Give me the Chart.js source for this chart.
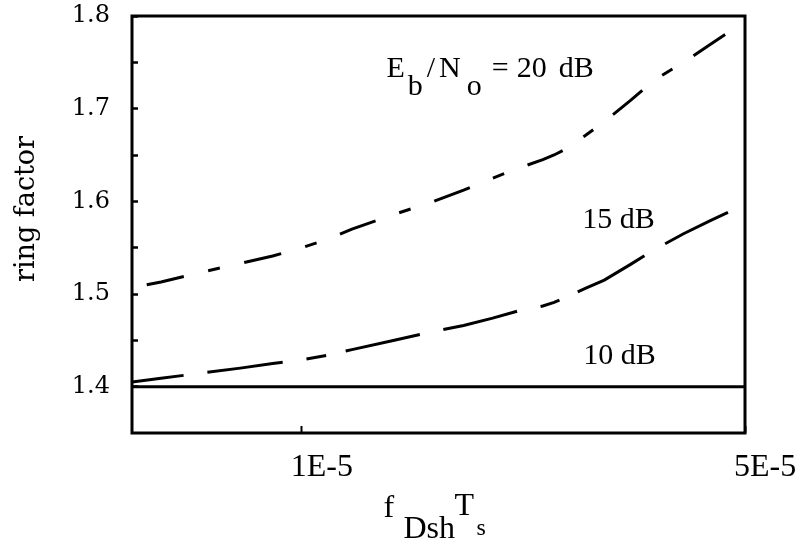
<!DOCTYPE html>
<html>
<head>
<meta charset="utf-8">
<script src="https://cdn.jsdelivr.net/npm/chart.js@4.4.1/dist/chart.umd.min.js"></script>
<style>
    html, body { margin: 0; padding: 0; background: #fff; }
    canvas { display: block; }
</style>
</head>
<body>
<canvas id="ring-chart" width="807" height="544"></canvas>
<script>
// f_Dsh * T_s sample points (log axis)
const xValues = [5.4e-6, 6e-6, 7e-6, 8e-6, 9e-6, 1e-5, 1.1e-5, 1.2e-5, 1.4e-5, 1.6e-5, 1.8e-5, 2e-5,
    2.2e-5, 2.4e-5, 2.5e-5, 2.6e-5, 2.8e-5, 3e-5, 3.3e-5, 3.6e-5, 4e-5, 4.4e-5, 4.7e-5];

// ring factor for each Eb/No
const ring20dB = [1.507, 1.513, 1.524, 1.533, 1.541, 1.550, 1.559, 1.570, 1.586, 1.599, 1.612, 1.625,
    1.636, 1.645, 1.650, 1.656, 1.671, 1.686, 1.709, 1.731, 1.750, 1.769, 1.782];
const ring15dB = [1.405, 1.409, 1.415, 1.420, 1.425, 1.429, 1.434, 1.440, 1.450, 1.459, 1.466, 1.474,
    1.482, 1.487, 1.491, 1.496, 1.506, 1.515, 1.532, 1.548, 1.565, 1.579, 1.588];
const xValues10dB = [5.4e-6, 5e-5];
const ring10dB = [1.4, 1.4];

// axes
const xMin = 5.4e-6;
const xMax = 5e-5;
const xTicks = [1e-5, 5e-5];
const xTickLabels = ['1E-5', '5E-5'];
const yMin = 1.35;
const yMax = 1.8;
const yTicks = [1.4, 1.45, 1.5, 1.55, 1.6, 1.65, 1.7, 1.75, 1.8];
const yTickLabels = ['1.4', '', '1.5', '', '1.6', '', '1.7', '', '1.8'];

// curve labels, anchored in data units
const curveLabels = ['20 dB', '15 dB', '10 dB'];
const curveLabelX = [1.36e-5, 2.77e-5, 2.78e-5];
const curveLabelY = [1.734, 1.571, 1.4245];

document.addEventListener('DOMContentLoaded', function() {
    drawRingChart();
});

function toPoints(xs, ys) {
    return xs.map((x, i) => ({ x: x, y: ys[i] }));
}

function drawPieces(ctx, pieces, x0) {
    // pieces: [text, font, dx, baseline]
    let x = x0;
    pieces.forEach(p => {
        ctx.font = p[1];
        x += p[2];
        ctx.fillText(p[0], x, p[3]);
        x += ctx.measureText(p[0]).width;
    });
}

const frameAndText = {
    id: 'frameAndText',
    afterDraw(chart) {
        const ctx = chart.ctx;
        const area = chart.chartArea;
        const xs = chart.scales.x;
        const ys = chart.scales.y;
        ctx.save();
        ctx.strokeStyle = '#000';
        ctx.fillStyle = '#000';
        ctx.lineWidth = 3;
        ctx.strokeRect(area.left, area.top, area.right - area.left, area.bottom - area.top);

        // y title
        ctx.save();
        ctx.translate(27, 209);
        ctx.rotate(-Math.PI / 2);
        ctx.textAlign = 'center';
        ctx.textBaseline = 'middle';
        ctx.font = '27px "DejaVu Serif"';
        ctx.fillText('ring factor', 0, 0);
        ctx.restore();

        // x title: f_Dsh T_s
        ctx.textAlign = 'left';
        ctx.textBaseline = 'alphabetic';
        const cx = (area.left + area.right) / 2;
        ctx.font = '32px "Liberation Serif"';
        ctx.fillText('f', cx - 55, 517);
        ctx.fillText('Dsh', cx - 35, 538);
        ctx.fillText('T', cx + 16, 515);
        ctx.font = '24px "Liberation Serif"';
        ctx.fillText('s', cx + 38, 535);

        // curve labels
        const lf = '30px "Liberation Serif"';
        const bx = xs.getPixelForValue(curveLabelX[0]);
        const by = ys.getPixelForValue(curveLabelY[0]);
        const parts = curveLabels[0].split(' ');
        drawPieces(ctx, [
            ['E', lf, 0, by],
            ['b', lf, 3, by + 18],
            ['/', lf, 4, by],
            ['N', lf, 4, by],
            ['o', lf, 6, by + 18],
            ['=', lf, 10, by],
            [parts[0], lf, 8, by],
            [parts[1], lf, 12, by]
        ], bx);
        for (let i = 1; i < curveLabels.length; i++) {
            ctx.font = lf;
            ctx.fillText(curveLabels[i], xs.getPixelForValue(curveLabelX[i]), ys.getPixelForValue(curveLabelY[i]));
        }
        ctx.restore();
    }
};

function drawRingChart() {
    const canvas = document.getElementById('ring-chart');
    if (!canvas || typeof Chart === 'undefined') {
        return;
    }
    new Chart(canvas, {
        type: 'line',
        data: {
            datasets: [{
                label: '20 dB',
                data: toPoints(xValues, ring20dB),
                borderColor: '#000',
                borderWidth: 3,
                borderDash: [38, 25, 12, 25],
                borderDashOffset: 85
            }, {
                label: '15 dB',
                data: toPoints(xValues, ring15dB),
                borderColor: '#000',
                borderWidth: 3,
                borderDash: [76, 24, 76, 24, 20, 20],
                borderDashOffset: 24
            }, {
                label: '10 dB',
                data: toPoints(xValues10dB, ring10dB),
                borderColor: '#000',
                borderWidth: 3
            }]
        },
        options: {
            responsive: false,
            animation: false,
            layout: {
                padding: { top: 16, right: 62, left: 0, bottom: 0 }
            },
            elements: {
                point: { radius: 0 },
                line: { tension: 0, borderCapStyle: 'butt' }
            },
            plugins: {
                legend: { display: false },
                tooltip: { enabled: false }
            },
            scales: {
                x: {
                    type: 'logarithmic',
                    min: xMin,
                    max: xMax,
                    afterBuildTicks: scale => { scale.ticks = xTicks.map(v => ({ value: v })); },
                    afterFit: scale => {
                        scale.height = 111;
                        scale.paddingLeft = 0;
                        scale.paddingRight = 0;
                    },
                    border: { display: false },
                    grid: {
                        drawOnChartArea: false,
                        drawTicks: true,
                        tickLength: -7,
                        tickWidth: 2,
                        color: '#000'
                    },
                    ticks: {
                        autoSkip: false,
                        maxRotation: 0,
                        align: 'start',
                        labelOffset: -11,
                        padding: 22,
                        color: '#000',
                        font: { family: '"Liberation Serif"', size: 32 },
                        callback: (value, index) => xTickLabels[index]
                    }
                },
                y: {
                    min: yMin,
                    max: yMax,
                    afterBuildTicks: scale => { scale.ticks = yTicks.map(v => ({ value: v })); },
                    afterFit: scale => {
                        scale.width = 132;
                        scale.paddingTop = 0;
                        scale.paddingBottom = 0;
                    },
                    border: { display: false },
                    grid: {
                        drawOnChartArea: false,
                        drawTicks: true,
                        tickLength: -6,
                        tickWidth: 2.5,
                        color: '#000'
                    },
                    ticks: {
                        padding: 28,
                        color: '#000',
                        font: { family: '"DejaVu Serif"', size: 24 },
                        callback: (value, index) => yTickLabels[index]
                    }
                }
            }
        },
        plugins: [frameAndText]
    });
}
</script>
</body>
</html>
